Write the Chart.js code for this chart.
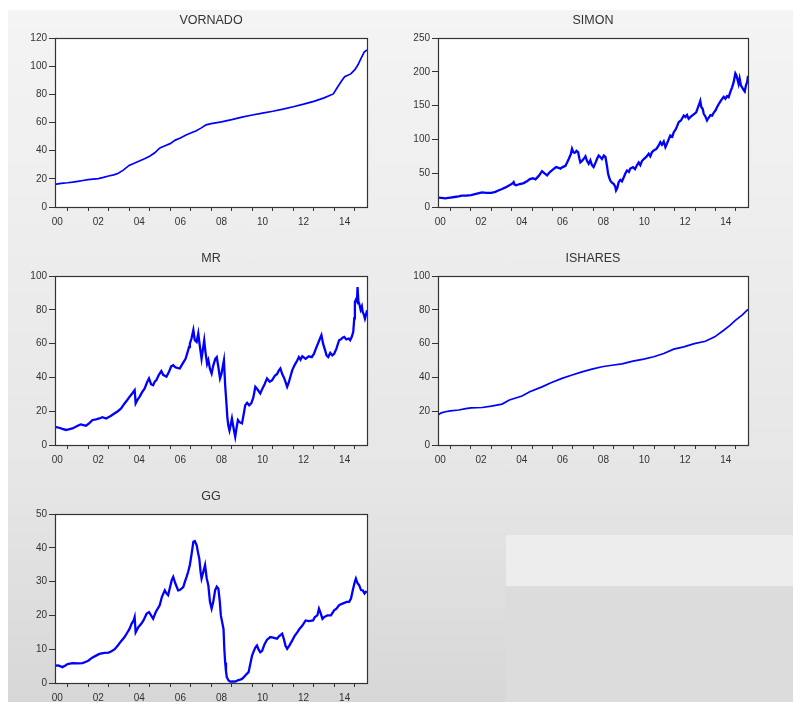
<!DOCTYPE html>
<html><head><meta charset="utf-8">
<script src="https://cdn.jsdelivr.net/npm/chart.js@4/dist/chart.umd.min.js"></script>
<style>
html,body{margin:0;padding:0;width:793px;height:702px;overflow:hidden;background:#fff;}
#bg{position:absolute;left:8px;top:10px;width:785px;height:692px;background:linear-gradient(#f4f4f4 0%,#e6e6e6 68%,#d7d7d7 100%);}
#r1{position:absolute;left:506px;top:535px;width:287px;height:51px;background:#ededed;}
#r2{position:absolute;left:506px;top:586px;width:287px;height:116px;background:#dcdcdc;}
canvas{position:absolute;}
</style></head><body>
<div id="bg"></div><div id="r1"></div><div id="r2"></div>
<canvas id="c1"></canvas><canvas id="c2"></canvas><canvas id="c3"></canvas><canvas id="c4"></canvas><canvas id="c5"></canvas>
<script>
// ---- axis data ----
const tickYears = [2001,2002,2003,2004,2005,2006,2007,2008,2009,2010,2011,2012,2013,2014,2015];
const labelYears = [2000,2002,2004,2006,2008,2010,2012,2014];
const xLabels = ['00','02','04','06','08','10','12','14'];
const vornadoYTicks = [0,20,40,60,80,100,120];
const simonYTicks = [0,50,100,150,200,250];
const mrYTicks = [0,20,40,60,80,100];
const isharesYTicks = [0,20,40,60,80,100];
const ggYTicks = [0,10,20,30,40,50];

// ---- series (decimal year, value) ----
const vornadoT = [2000.39,2000.6,2000.8,2001.0,2001.25,2001.5,2001.75,2002.0,2002.25,2002.5,2002.75,2003.0,2003.25,2003.45,2003.7,2004.0,2004.25,2004.5,2004.75,2005.0,2005.25,2005.5,2005.75,2006.0,2006.25,2006.5,2006.75,2007.0,2007.25,2007.5,2007.75,2008.0,2008.5,2009.0,2009.5,2010.0,2010.5,2011.0,2011.5,2012.0,2012.5,2013.0,2013.5,2013.95,2014.15,2014.35,2014.5,2014.8,2015.0,2015.15,2015.3,2015.45,2015.59];
const vornadoV = [16.0,16.6,17.0,17.2,17.6,18.2,18.8,19.4,19.8,20.2,21.0,22.0,22.8,23.8,26.0,29.5,31.0,32.6,34.2,36.0,38.5,42.0,43.5,45.0,47.5,49.0,51.0,52.5,54.0,56.0,58.3,59.2,60.5,62.0,63.8,65.3,66.7,68.0,69.5,71.2,73.0,75.0,77.5,80.3,85.0,89.5,92.5,94.5,97.5,101,105.5,110,111.5];

const simonT = [2000.39,2000.55,2000.75,2000.9,2001.0,2001.2,2001.4,2001.57,2001.8,2002.01,2002.2,2002.4,2002.55,2002.75,2003.01,2003.2,2003.35,2003.53,2003.7,2003.89,2004.05,2004.10,2004.15,2004.22,2004.4,2004.59,2004.75,2004.89,2005.05,2005.17,2005.33,2005.49,2005.6,2005.74,2005.85,2005.93,2006.05,2006.18,2006.3,2006.39,2006.5,2006.64,2006.72,2006.80,2006.9,2006.96,2007.02,2007.09,2007.18,2007.26,2007.32,2007.37,2007.45,2007.55,2007.62,2007.70,2007.78,2007.86,2007.94,2008.02,2008.12,2008.2,2008.27,2008.35,2008.43,2008.52,2008.60,2008.68,2008.73,2008.79,2008.84,2008.92,2009.01,2009.08,2009.12,2009.18,2009.25,2009.33,2009.41,2009.50,2009.58,2009.66,2009.75,2009.82,2009.95,2010.05,2010.15,2010.23,2010.31,2010.39,2010.48,2010.6,2010.72,2010.8,2010.88,2010.97,2011.1,2011.21,2011.29,2011.37,2011.46,2011.54,2011.62,2011.70,2011.78,2011.88,2011.95,2012.05,2012.12,2012.19,2012.3,2012.44,2012.52,2012.60,2012.68,2012.8,2012.96,2013.05,2013.12,2013.2,2013.25,2013.3,2013.37,2013.42,2013.5,2013.58,2013.66,2013.75,2013.83,2013.92,2014.0,2014.07,2014.15,2014.23,2014.32,2014.40,2014.48,2014.56,2014.64,2014.72,2014.81,2014.89,2014.97,2015.02,2015.08,2015.13,2015.18,2015.24,2015.30,2015.38,2015.43,2015.49,2015.55,2015.59];
const simonV = [13.8,13.5,12.8,13.5,14.0,14.8,15.6,16.7,17.0,17.7,19.0,20.5,21.7,21.0,21.0,22.5,24.5,26.6,29.0,32.0,35.0,37.0,33.0,32.0,34.0,35.4,38.0,41.3,42.5,41.0,46.0,53.0,50.0,46.8,51.0,53.0,56.0,59.0,58.0,56.6,59.0,61.0,66.0,71.0,78.0,86.0,81.0,80.0,83.0,81.0,72.0,66.0,68.0,72.0,75.0,68.0,64.0,69.0,62.0,59.0,66.0,72.0,76.0,74.0,71.0,76.0,74.0,60.0,49.0,43.0,39.0,36.0,34.0,30.0,24.6,28.0,37.0,40.0,38.0,44.0,50.0,54.0,52.0,57.0,59.0,56.0,62.0,66.0,62.0,68.0,71.0,74.0,78.7,75.0,81.0,83.6,86.0,91.0,96.0,92.0,97.0,88.6,94.0,100.0,105.8,104.0,110.7,115.0,120.0,125.5,128.0,135.3,133.0,136.0,130.4,134.0,137.8,140.0,146.0,152.6,157.0,148.0,145.0,137.8,134.0,128.0,132.0,136.0,135.3,140.0,143.0,147.6,152.0,156.0,160.0,163.0,160.0,164.0,162.4,170.0,177.0,185.0,197.8,195.0,188.0,182.0,190.0,180.0,177.0,173.0,171.0,180.0,185.0,194.0];

const mrT = [2000.39,2000.5,2000.59,2000.75,2000.92,2001.05,2001.24,2001.4,2001.57,2001.65,2001.78,2001.90,2002.05,2002.22,2002.39,2002.55,2002.7,2002.88,2003.01,2003.12,2003.3,2003.45,2003.6,2003.78,2003.9,2004.02,2004.15,2004.27,2004.32,2004.42,2004.51,2004.62,2004.76,2004.87,2004.97,2005.07,2005.17,2005.25,2005.33,2005.45,2005.57,2005.66,2005.82,2005.95,2006.05,2006.15,2006.25,2006.39,2006.47,2006.6,2006.75,2006.85,2006.92,2006.96,2007.04,2007.13,2007.2,2007.29,2007.37,2007.45,2007.53,2007.6,2007.66,2007.72,2007.80,2007.86,2007.94,2008.02,2008.1,2008.2,2008.27,2008.35,2008.43,2008.5,2008.57,2008.62,2008.68,2008.74,2008.79,2008.84,2008.89,2008.95,2009.01,2009.06,2009.12,2009.17,2009.22,2009.3,2009.38,2009.50,2009.58,2009.66,2009.75,2009.85,2009.95,2010.05,2010.15,2010.25,2010.39,2010.5,2010.6,2010.72,2010.85,2010.97,2011.1,2011.21,2011.29,2011.37,2011.46,2011.54,2011.62,2011.70,2011.78,2011.87,2011.95,2012.05,2012.19,2012.27,2012.35,2012.44,2012.6,2012.75,2012.9,2013.01,2013.1,2013.2,2013.3,2013.37,2013.45,2013.55,2013.62,2013.70,2013.8,2013.9,2013.99,2014.1,2014.23,2014.32,2014.4,2014.48,2014.58,2014.7,2014.77,2014.85,2014.92,2014.97,2015.00,2015.05,2015.1,2015.13,2015.17,2015.21,2015.28,2015.34,2015.38,2015.44,2015.49,2015.54,2015.59];
const mrV = [10.8,10.5,10.2,9.5,8.9,9.2,9.8,10.8,11.8,12.2,11.8,11.4,12.8,14.8,15.2,15.7,16.5,15.7,16.5,17.3,18.8,20.0,21.5,24.6,26.5,28.5,30.5,32.5,24.6,27.0,28.5,31.0,33.5,37.0,39.4,36.0,35.4,37.5,38.4,41.5,43.7,41.5,40.4,43.5,46.5,47.2,46.0,45.5,45.3,48.0,51.0,55.0,58.0,60.0,63.0,68.0,62.0,61.0,66.0,58.0,51.0,57.0,62.0,55.0,48.0,50.2,45.0,42.3,47.0,51.0,52.0,46.0,39.4,42.0,47.0,50.2,35.4,25.0,15.7,11.0,8.5,12.0,15.7,12.0,8.0,4.9,9.0,14.8,13.5,12.8,18.0,23.6,25.0,23.5,24.6,28.0,34.4,33.0,30.5,33.5,36.0,39.4,37.5,38.4,41.0,42.0,44.0,45.3,42.0,40.0,37.4,34.4,37.0,41.0,44.3,47.0,50.0,52.0,50.5,52.5,51.0,52.5,52.0,54.0,57.0,60.0,63.0,65.0,60.0,56.0,53.0,52.0,54.5,53.0,54.0,57.0,62.0,62.5,63.5,64.0,62.5,63.0,62.0,64.0,67.0,75.0,84.6,86.0,85.0,93.5,85.0,83.7,80.0,82.0,78.7,77.0,74.8,77.0,79.7];

const isharesT = [2000.39,2000.55,2000.75,2001.0,2001.41,2001.75,2002.01,2002.55,2003.01,2003.53,2003.89,2004.51,2004.89,2005.49,2005.93,2006.47,2006.93,2007.45,2007.94,2008.43,2008.92,2009.41,2009.95,2010.48,2010.97,2011.46,2011.95,2012.44,2012.96,2013.5,2013.96,2014.4,2014.72,2014.97,2015.3,2015.59];
const isharesV = [17.7,19.0,19.7,20.2,20.7,21.5,22.0,22.2,23.0,24.2,26.6,29.0,31.5,34.4,36.8,39.4,41.3,43.3,44.9,46.3,47.2,48.0,49.6,50.8,52.2,54.1,56.7,58.1,60.0,61.4,64.0,67.9,70.9,73.8,76.8,80.3];

const ggT = [2000.39,2000.55,2000.75,2000.9,2001.0,2001.24,2001.5,2001.73,2001.9,2002.01,2002.2,2002.39,2002.55,2002.80,2003.0,2003.12,2003.3,2003.45,2003.6,2003.78,2003.9,2004.02,2004.12,2004.22,2004.27,2004.32,2004.45,2004.59,2004.7,2004.85,2004.97,2005.07,2005.17,2005.3,2005.49,2005.6,2005.74,2005.82,2005.90,2006.0,2006.08,2006.15,2006.25,2006.39,2006.47,2006.64,2006.72,2006.80,2006.88,2006.96,2007.04,2007.13,2007.2,2007.29,2007.36,2007.42,2007.48,2007.53,2007.62,2007.70,2007.78,2007.86,2007.94,2008.02,2008.1,2008.19,2008.27,2008.35,2008.42,2008.47,2008.55,2008.60,2008.64,2008.68,2008.72,2008.76,2008.84,2008.92,2009.05,2009.17,2009.3,2009.41,2009.50,2009.6,2009.7,2009.82,2009.9,2009.99,2010.08,2010.15,2010.23,2010.3,2010.39,2010.48,2010.6,2010.72,2010.88,2010.97,2011.1,2011.21,2011.3,2011.46,2011.54,2011.62,2011.70,2011.8,2011.95,2012.05,2012.19,2012.3,2012.44,2012.60,2012.75,2012.96,2013.05,2013.17,2013.25,2013.34,2013.42,2013.5,2013.66,2013.83,2013.99,2014.1,2014.23,2014.40,2014.6,2014.72,2014.81,2014.9,2015.0,2015.05,2015.13,2015.21,2015.3,2015.38,2015.47,2015.53,2015.59];
const ggV = [5.1,5.2,4.7,5.2,5.6,5.9,5.8,5.9,6.3,6.6,7.5,8.1,8.6,8.9,9.0,9.3,10.0,11.1,12.3,13.6,14.8,16.0,17.5,18.5,19.5,15.0,16.5,17.5,18.5,20.5,21.0,20.0,19.0,21.0,23.0,25.5,27.4,26.5,26.0,28.5,30.5,31.4,29.5,27.4,27.5,28.4,30.0,31.4,33.0,34.9,38.0,41.8,42.0,40.8,38.5,36.8,33.0,30.9,33.0,34.9,31.0,28.9,24.0,22.0,24.0,27.4,28.5,27.9,24.0,20.0,17.5,16.0,10.0,6.1,3.5,1.7,0.8,0.4,0.5,0.4,0.8,1.0,1.2,1.8,2.5,3.2,5.5,8.1,9.5,10.5,11.1,10.0,9.1,9.5,11.5,12.8,13.6,13.5,13.3,13.1,13.8,14.6,13.0,11.0,10.1,11.0,12.6,13.8,15.0,16.0,17.0,18.5,18.3,18.5,19.5,20.0,22.0,20.5,19.0,19.5,20.0,20.0,21.5,22.0,23.0,23.5,24.0,24.0,25.0,27.5,30.0,30.9,29.5,28.9,27.5,27.4,26.5,27.0,26.9];

// ---- layout ----
const panels = [
  {id:'c1', title:'VORNADO', t:vornadoT, v:vornadoV, yTicks:vornadoYTicks, L:55, T:38, R:367, B:207, w:1.7},
  {id:'c2', title:'SIMON',   t:simonT,   v:simonV,   yTicks:simonYTicks,   L:438, T:38, R:748, B:207, w:2.3},
  {id:'c3', title:'MR',      t:mrT,      v:mrV,      yTicks:mrYTicks,      L:55, T:276, R:367, B:445, w:2.3},
  {id:'c4', title:'ISHARES', t:isharesT, v:isharesV, yTicks:isharesYTicks, L:438, T:276, R:748, B:445, w:1.7},
  {id:'c5', title:'GG',      t:ggT,      v:ggV,      yTicks:ggYTicks,      L:55, T:514, R:367, B:683, w:2.3}
];
const PAD_L = 50, PAD_T = 32, PAD_R = 10, PAD_B = 22;

const framePlugin = {
  id: 'frame',
  beforeDraw(chart) {
    const a = chart.chartArea, c = chart.ctx;
    c.save(); c.fillStyle = '#ffffff';
    c.fillRect(a.left, a.top, a.right - a.left, a.bottom - a.top);
    c.restore();
  },
  afterDatasetsDraw(chart) {
    const a = chart.chartArea, c = chart.ctx;
    c.save(); c.strokeStyle = '#333333'; c.lineWidth = 1.2;
    c.strokeRect(Math.round(a.left) + 0.5, Math.round(a.top) + 0.5, Math.round(a.right - a.left), Math.round(a.bottom - a.top));
    c.restore();
  }
};

Chart.defaults.font.family = 'Arial, "Liberation Sans", sans-serif';

panels.forEach(p => {
  const cv = document.getElementById(p.id);
  const W = (p.R - p.L) + PAD_L + PAD_R, H = (p.B - p.T) + PAD_T + PAD_B;
  cv.width = W; cv.height = H;
  cv.style.left = (p.L - PAD_L) + 'px'; cv.style.top = (p.T - PAD_T) + 'px';
  cv.style.width = W + 'px'; cv.style.height = H + 'px';
  new Chart(cv, {
    type: 'line',
    data: { datasets: [{
      data: p.t.map((x, i) => ({x: x, y: p.v[i]})),
      borderColor: '#0000ff', borderWidth: p.w, pointRadius: 0, tension: 0, fill: false
    }]},
    options: {
      responsive: false, animation: false, devicePixelRatio: 1,
      layout: { padding: { top: 7, right: PAD_R, left: 0, bottom: 0 } },
      plugins: {
        legend: { display: false }, tooltip: { enabled: false },
        title: { display: true, text: p.title, fullSize: false, color: '#333333',
                 font: { size: 12.5, weight: 'normal', lineHeight: 1.2 }, padding: { top: 0, bottom: 10 } }
      },
      scales: {
        x: {
          type: 'linear', min: 2000.39, max: 2015.59,
          border: { display: false },
          grid: { drawOnChartArea: false, drawTicks: true, tickLength: 4,
                  tickColor: ctx => (ctx.tick && Number.isInteger(ctx.tick.value)) ? '#333333' : 'rgba(0,0,0,0)' },
          ticks: { autoSkip: false, maxRotation: 0, minRotation: 0, padding: 5, color: '#333333', font: { size: 10 },
                   callback: (val) => { const i = labelYears.indexOf(val - 0.5); return i >= 0 ? xLabels[i] : ''; } },
          afterBuildTicks: s => {
            const arr = tickYears.map(v => ({value: v})).concat(labelYears.map(y => ({value: y + 0.5})));
            arr.sort((a, b) => a.value - b.value);
            s.ticks = arr;
          },
          afterFit: s => { s.height = PAD_B; }
        },
        y: {
          min: p.yTicks[0], max: p.yTicks[p.yTicks.length - 1],
          border: { display: false },
          grid: { drawOnChartArea: false, tickLength: 6, tickColor: '#333333' },
          ticks: { padding: 2, color: '#333333', font: { size: 10 } },
          afterBuildTicks: s => { s.ticks = p.yTicks.map(v => ({value: v})); },
          afterFit: s => { s.width = PAD_L; }
        }
      }
    },
    plugins: [framePlugin]
  });
});
</script>
</body></html>
